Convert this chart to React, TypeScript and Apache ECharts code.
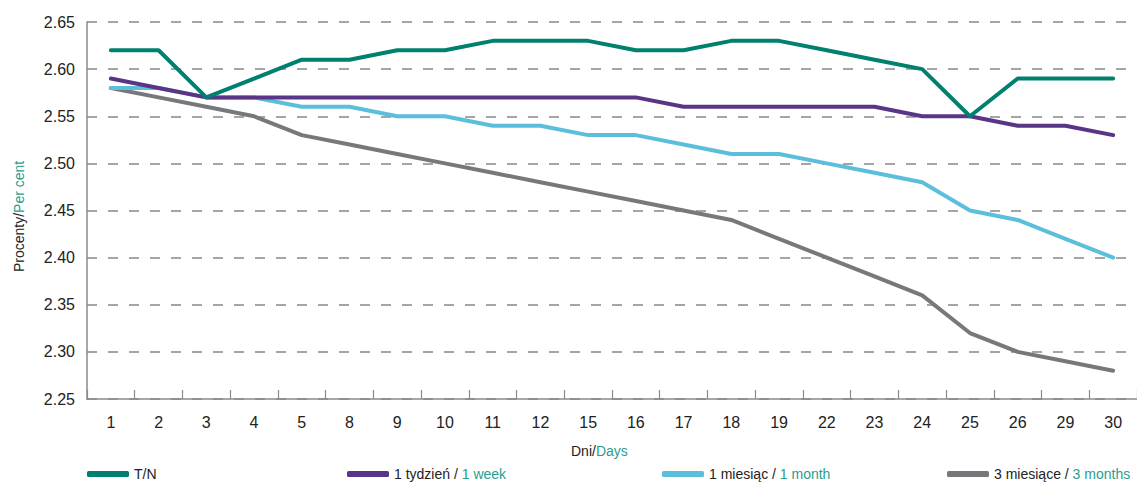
import React, { useEffect, useRef } from "react";
import * as echarts from "echarts";

const days = ["1", "2", "3", "4", "5", "8", "9", "10", "11", "12", "15", "16", "17", "18", "19", "22", "23", "24", "25", "26", "29", "30"];
const tn = [2.62, 2.62, 2.57, 2.59, 2.61, 2.61, 2.62, 2.62, 2.63, 2.63, 2.63, 2.62, 2.62, 2.63, 2.63, 2.62, 2.61, 2.60, 2.55, 2.59, 2.59, 2.59];
const week1 = [2.59, 2.58, 2.57, 2.57, 2.57, 2.57, 2.57, 2.57, 2.57, 2.57, 2.57, 2.57, 2.56, 2.56, 2.56, 2.56, 2.56, 2.55, 2.55, 2.54, 2.54, 2.53];
const month1 = [2.58, 2.58, 2.57, 2.57, 2.56, 2.56, 2.55, 2.55, 2.54, 2.54, 2.53, 2.53, 2.52, 2.51, 2.51, 2.50, 2.49, 2.48, 2.45, 2.44, 2.42, 2.40];
const month3 = [2.58, 2.57, 2.56, 2.55, 2.53, 2.52, 2.51, 2.50, 2.49, 2.48, 2.47, 2.46, 2.45, 2.44, 2.42, 2.40, 2.38, 2.36, 2.32, 2.30, 2.29, 2.28];

const seriesNames = ["T/N", "1 tydzień / 1 week", "1 miesiąc / 1 month", "3 miesiące / 3 months"];
const seriesData = [tn, week1, month1, month3];
const colors = ["#00806f", "#5a3486", "#5bbfdb", "#77787b"];
const legendLeft = [87, 347, 662, 947];

const FONT = "'Liberation Sans Narrow', 'Liberation Sans', Arial, sans-serif";
const TEAL = "#2a9d8f";

export default function App() {
  const ref = useRef<HTMLDivElement>(null);
  useEffect(() => {
    if (!ref.current) return;
    const chart = echarts.init(ref.current, null, { renderer: "svg" });
    const legendFormatter = (name: string) => {
      const idx = name.indexOf(" / ");
      if (idx < 0) return "{a|" + name + "}";
      return "{a|" + name.slice(0, idx + 3) + "}{b|" + name.slice(idx + 3) + "}";
    };
    chart.setOption({
      animation: false,
      backgroundColor: "#ffffff",
      grid: { left: 87, right: 0, top: 22, bottom: 83, containLabel: false },
      xAxis: {
        type: "category",
        data: days,
        boundaryGap: true,
        axisLine: { show: true, lineStyle: { color: "#8a8a8a", width: 1.5 } },
        axisTick: { show: true, inside: true, length: 9, lineStyle: { color: "#8a8a8a", width: 1.2 } },
        axisLabel: { color: "#222", fontFamily: FONT, fontSize: 16, margin: 15 },
        splitLine: { show: false },
      },
      yAxis: {
        type: "value",
        min: 2.25,
        max: 2.65,
        interval: 0.05,
        axisLine: { show: true, lineStyle: { color: "#8a8a8a", width: 1.5 } },
        axisTick: { show: false },
        axisLabel: {
          color: "#222",
          fontFamily: FONT,
          fontSize: 16,
          margin: 12,
          formatter: (v: number) => v.toFixed(2),
        },
        splitLine: { show: true, lineStyle: { color: "#888888", width: 1.5, type: [10, 11] } },
      },
      legend: seriesNames.map((n, i) => ({
        data: [n],
        left: legendLeft[i],
        top: 467,
        padding: 0,
        itemWidth: 42,
        itemHeight: 6,
        itemGap: 10,
        icon: "roundRect",
        formatter: legendFormatter,
        textStyle: {
          fontFamily: FONT,
          fontSize: 14,
          lineHeight: 14,
          rich: {
            a: { color: "#222", fontFamily: FONT, fontSize: 14, lineHeight: 14 },
            b: { color: TEAL, fontFamily: FONT, fontSize: 14, lineHeight: 14 },
          },
        },
      })),
      series: seriesData.map((d, i) => ({
        name: seriesNames[i],
        type: "line",
        data: d,
        symbol: "none",
        color: colors[i],
        lineStyle: { color: colors[i], width: 4, cap: "round", join: "round" },
        z: 10 - i,
      })),
      graphic: [
        {
          type: "text",
          left: 571,
          top: 444,
          style: {
            text: "{a|Dni/}{b|Days}",
            rich: {
              a: { fill: "#222", fontFamily: FONT, fontSize: 14 },
              b: { fill: TEAL, fontFamily: FONT, fontSize: 14 },
            },
          },
        },
        {
          type: "text",
          x: 12,
          y: 272,
          rotation: Math.PI / 2,
          style: {
            text: "{a|Procenty/}{b|Per cent}",
            rich: {
              a: { fill: "#222", fontFamily: FONT, fontSize: 14 },
              b: { fill: TEAL, fontFamily: FONT, fontSize: 14 },
            },
          },
        },
      ],
    });
    return () => chart.dispose();
  }, []);
  return <div ref={ref} style={{ position: "fixed", left: 0, top: 0, width: 1137, height: 482 }} />;
}
